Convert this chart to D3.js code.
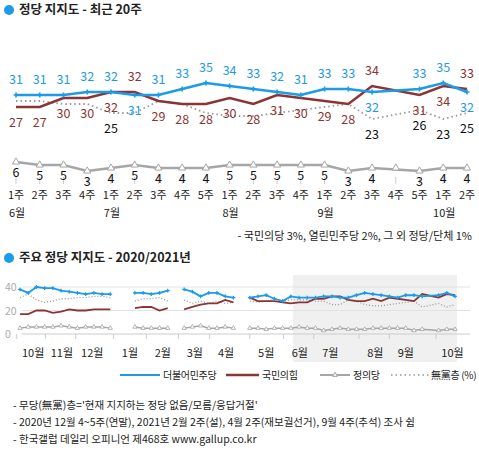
<!DOCTYPE html>
<html><head><meta charset="utf-8">
<script src="https://cdn.jsdelivr.net/npm/d3@7"></script>
<style>body{margin:0;background:#fff}text{font-family:"Noto Sans CJK KR",sans-serif}</style>
</head><body><div id="chart"></div>
<script>
// recent 20 weeks (index 16 = Sep 4th week, no survey)
var weeks = ['1주','2주','3주','4주','1주','2주','3주','4주','5주','1주','2주','3주','4주','1주','2주','3주','4주','5주','1주','2주'];
var months = [[0,'6월'],[4,'7월'],[9,'8월'],[13,'9월'],[18,'10월']];
var minjoo = [31,31,31,32,32,31,31,33,35,34,33,32,31,33,33,32,null,33,35,32];
var gukhim = [27,27,30,30,32,32,29,28,28,30,28,31,30,29,28,34,null,31,34,33];
var jeongui = [6,5,5,3,4,5,4,4,4,5,5,5,5,5,3,4,null,3,4,4];
var noParty = [29,29,28,28,25,25,29,28,25,24,24,25,26,27,28,23,null,26,23,25];
var noPartyShown = [4,15,17,18,19];

// long-term weekly since Oct 2020 (nulls in gaps)
var gapWeeks = [12,13,19,27];
var ltMinjoo = [38,35,40,39,39,37,36,35,34,35,34,34,null,null,35,35,34,35,37,null,38,36,32,35,35,32,31,null,31,32,33,30,28,32].concat(minjoo);
var ltGukhim = [17,17,20,20,18,19,21,20,20,21,21,21,null,null,22,23,23,20,22,null,21,23,25,26,26,29,27,null,31,28,28,28,27,26].concat(gukhim);
var ltJeongui = [5,6,6,6,6,7,6,5,6,6,6,5,null,null,6,5,5,5,5,null,5,6,7,5,5,6,5,null,5,5,4,5,5,5].concat(jeongui);
var ltNoParty = [31,34,29,27,28,30,30,31,31,32,32,31,null,null,28,30,30,31,28,null,29,26,28,26,28,26,27,null,28,27,28,30,28,29].concat(noParty);
var ltMonths = [[1.6,'10월'],[5.1,'11월'],[8.8,'12월'],[13.4,'1월'],[17.4,'2월'],[21.3,'3월'],[25.1,'4월'],[30,'5월'],[34.1,'6월'],[37.8,'7월'],[43.3,'8월'],[47,'9월'],[52.7,'10월']];
var yTicks = [0,20,40];

var BLUE='#1b9be8', RED='#8c3434', GRAY='#a6a6a6', DOT='#999';

var svg = d3.select('#chart').append('svg').attr('width',479).attr('height',450);

function title(y, t){
	svg.append('circle').attr('cx',9).attr('cy',y-4).attr('r',5).attr('fill',BLUE);
	svg.append('text').attr('x',19).attr('y',y).attr('font-size',12.5).attr('font-weight','bold').attr('fill','#222').text(t);
}
title(14,'정당 지지도 - 최근 20주');

// ---- top chart
var x = d3.scaleLinear().domain([0,19]).range([16,467]);
var y = d3.scaleLinear().domain([0,31]).range([188,95]);
var yJ = d3.scaleLinear().domain([0,31]).range([180,87]);  // minor party band sits a bit higher

svg.selectAll('.tick1').data(weeks).enter().append('line')
	.attr('x1',function(d,i){return x(i);}).attr('x2',function(d,i){return x(i);})
	.attr('y1',177).attr('y2',184).attr('stroke','#ccc');
svg.selectAll('.wk').data(weeks).enter().append('text')
	.attr('x',function(d,i){return x(i);}).attr('y',199).attr('text-anchor','middle')
	.attr('font-size',11).attr('fill','#222').text(function(d){return d;});
svg.selectAll('.mo').data(months).enter().append('text')
	.attr('x',function(d){return x(d[0])+1;}).attr('y',217).attr('text-anchor','middle')
	.attr('font-size',11).attr('fill','#222').text(function(d){return d[1];});

function pts(arr){ return arr.map(function(v,i){return {i:i,v:v};}).filter(function(d){return d.v!=null;}); }
var line = d3.line().x(function(d){return x(d.i);}).y(function(d){return y(d.v);});
var lineJ = d3.line().x(function(d){return x(d.i);}).y(function(d){return yJ(d.v);});

svg.append('path').attr('d',line(pts(noParty))).attr('fill','none').attr('stroke',DOT).attr('stroke-width',1.8).attr('stroke-dasharray','1.5,3');
svg.append('path').attr('d',lineJ(pts(jeongui))).attr('fill','none').attr('stroke',GRAY).attr('stroke-width',2.5);
svg.append('path').attr('d',line(pts(gukhim))).attr('fill','none').attr('stroke',RED).attr('stroke-width',2.5);
svg.append('path').attr('d',line(pts(minjoo))).attr('fill','none').attr('stroke',BLUE).attr('stroke-width',2.5);

svg.selectAll('.jm').data(jeongui.map(function(v,i){return {i:i,v:v};})).enter().append('path')
	.attr('d',d3.symbol(d3.symbolTriangle,22)).attr('fill','#fff').attr('stroke',GRAY)
	.attr('transform',function(d){return 'translate('+x(d.i)+','+yJ(d.v==null?4:d.v)+')';});
svg.selectAll('.bm').data(pts(minjoo)).enter().append('path')
	.attr('d',d3.symbol(d3.symbolCross,14)).attr('fill',BLUE)
	.attr('transform',function(d){return 'translate('+x(d.i)+','+y(d.v)+')';});

var lab = [];
minjoo.forEach(function(b,i){
	if(b==null) return;
	var r = gukhim[i];
	var bTop = b>=r;
	lab.push({i:i,v:b,y:y(b)+(bTop?-11:20),c:BLUE});
	lab.push({i:i,v:r,y:y(r)+(bTop?20:-11),c:RED});
	if(jeongui[i]!=null) lab.push({i:i,v:jeongui[i],y:yJ(jeongui[i])+15,c:'#111'});
});
noPartyShown.forEach(function(i){ lab.push({i:i,v:noParty[i],y:y(noParty[i])+20,c:'#111'}); });
svg.selectAll('.lab').data(lab).enter().append('text')
	.attr('x',function(d){return x(d.i);}).attr('y',function(d){return d.y;})
	.attr('text-anchor','middle').attr('font-size',12.5).attr('fill',function(d){return d.c;})
	.text(function(d){return d.v;});

svg.append('text').attr('x',472).attr('y',240).attr('text-anchor','end').attr('font-size',11).attr('fill','#222')
	.text('- 국민의당 3%, 열린민주당 2%, 그 외 정당/단체 1%');

// ---- bottom chart
title(262,'주요 정당 지지도 - 2020/2021년');
var x2 = d3.scaleLinear().domain([0,53]).range([20,455]);
var y2 = d3.scaleLinear().domain([0,40]).range([334,287]);

svg.append('rect').attr('x',293).attr('y',275).attr('width',164).attr('height',87).attr('fill','#f0f0f0');
svg.selectAll('.grid').data(yTicks).enter().append('line')
	.attr('x1',22).attr('x2',470).attr('y1',function(d){return y2(d);}).attr('y2',function(d){return y2(d);})
	.attr('stroke',function(d){return d==0?'#ccc':'#e2e2e2';});
svg.selectAll('.yl').data(yTicks).enter().append('text')
	.attr('x',5).attr('y',function(d){return y2(d)+4;}).attr('font-size',10.5).attr('fill','#aaa').text(function(d){return d;});
svg.selectAll('.mt').data(ltMonths).enter().append('line')
	.attr('x1',function(d){return x2(d[0]-2);}).attr('x2',function(d){return x2(d[0]-2);})
	.attr('y1',334).attr('y2',339).attr('stroke','#ccc');
svg.selectAll('.ml').data(ltMonths).enter().append('text')
	.attr('x',function(d){return x2(d[0]);}).attr('y',357).attr('text-anchor','middle')
	.attr('font-size',11).attr('fill','#222').text(function(d){return d[1];});

function pts2(arr){
	var out=[];
	arr.forEach(function(v,i){
		if(v!=null) out.push({i:i,v:v});
		else if(gapWeeks.indexOf(i)>=0) out.push({i:i,v:null});
	});
	return out;
}
var line2 = d3.line().defined(function(d){return d.v!=null;}).x(function(d){return x2(d.i);}).y(function(d){return y2(d.v);});
svg.append('path').attr('d',line2(pts2(ltNoParty))).attr('fill','none').attr('stroke',DOT).attr('stroke-width',1.3).attr('stroke-dasharray','1,2');
svg.append('path').attr('d',line2(pts2(ltJeongui))).attr('fill','none').attr('stroke',GRAY).attr('stroke-width',1.5);
svg.append('path').attr('d',line2(pts2(ltGukhim))).attr('fill','none').attr('stroke',RED).attr('stroke-width',1.8);
svg.append('path').attr('d',line2(pts2(ltMinjoo))).attr('fill','none').attr('stroke',BLUE).attr('stroke-width',1.8);
svg.selectAll('.ljm').data(pts2(ltJeongui).filter(function(d){return d.v!=null;})).enter().append('path')
	.attr('d',d3.symbol(d3.symbolTriangle,8)).attr('fill','#fff').attr('stroke',GRAY).attr('stroke-width',0.8)
	.attr('transform',function(d){return 'translate('+x2(d.i)+','+y2(d.v)+')';});
svg.selectAll('.lbm').data(pts2(ltMinjoo).filter(function(d){return d.v!=null;})).enter().append('path')
	.attr('d',d3.symbol(d3.symbolCross,8)).attr('fill',BLUE)
	.attr('transform',function(d){return 'translate('+x2(d.i)+','+y2(d.v)+')';});

// legend
var legend = [
	{x:120,w:40,c:BLUE,t:'더불어민주당',tx:163,dash:null,sw:2.2},
	{x:226,w:33,c:RED,t:'국민의힘',tx:262,dash:null,sw:2.5},
	{x:320,w:30,c:GRAY,t:'정의당',tx:353,dash:null,sw:2},
	{x:391,w:38,c:DOT,t:'無黨층 (%)',tx:431,dash:'1.5,3',sw:1.5}
];
var lg = svg.selectAll('.lg').data(legend).enter().append('g');
lg.append('line').attr('x1',function(d){return d.x;}).attr('x2',function(d){return d.x+d.w;})
	.attr('y1',375).attr('y2',375).attr('stroke',function(d){return d.c;}).attr('stroke-width',function(d){return d.sw;})
	.attr('stroke-dasharray',function(d){return d.dash;});
lg.append('text').attr('x',function(d){return d.tx;}).attr('y',379).attr('font-size',10).attr('fill','#222')
	.attr('letter-spacing',-0.3).text(function(d){return d.t;});
svg.append('path').attr('d',d3.symbol(d3.symbolTriangle,10)).attr('fill','#fff').attr('stroke',GRAY).attr('transform','translate(335,375)');

var notes = ['- 무당(無黨)층=\'현재 지지하는 정당 없음/모름/응답거절\'',
	'- 2020년 12월 4~5주(연말), 2021년 2월 2주(설), 4월 2주(재보궐선거), 9월 4주(추석) 조사 쉼',
	'- 한국갤럽 데일리 오피니언 제468호 www.gallup.co.kr'];
svg.selectAll('.note').data(notes).enter().append('text')
	.attr('x',13).attr('y',function(d,i){return 409+i*17;}).attr('font-size',10.5).attr('fill','#222')
	.text(function(d){return d;});
</script></body></html>
